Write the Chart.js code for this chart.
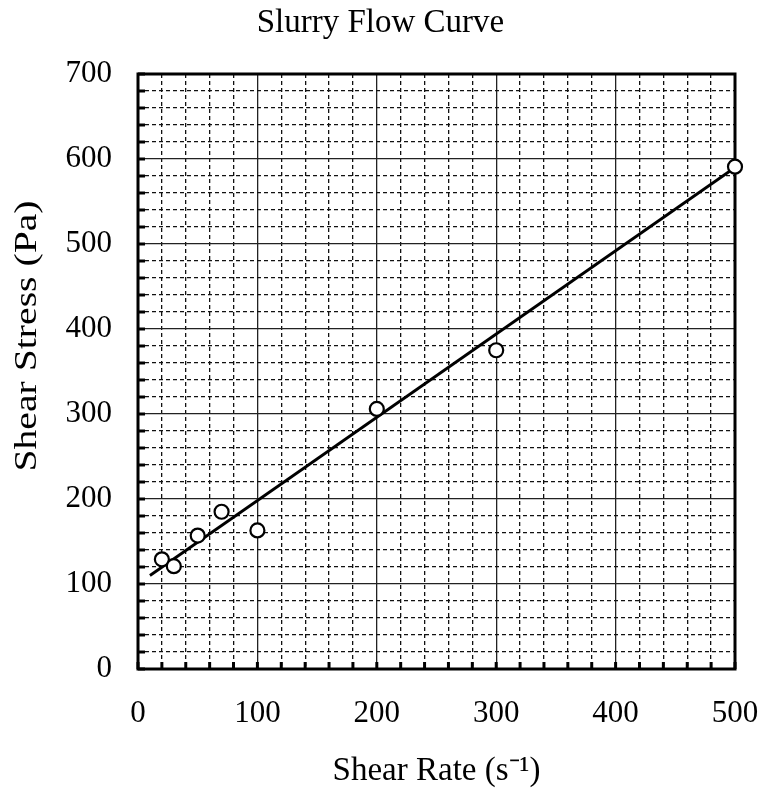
<!DOCTYPE html>
<html>
<head>
<meta charset="utf-8">
<title>Slurry Flow Curve</title>
<script src="https://cdn.jsdelivr.net/npm/chart.js@4/dist/chart.umd.min.js"></script>
<style>
  body { margin: 0; background: #fff; }
  #wrap { width: 761px; height: 799px; }
</style>
</head>
<body>
<div id="wrap"><canvas id="flow" width="761" height="799"></canvas></div>
<script>
// measured points
var shearRate   = [20, 30, 50, 70, 100, 200, 300, 500];
var shearStress = [129, 121, 157, 185, 163, 306, 375, 591];
// fitted straight line (two ends)
var fitRate   = [10, 500];
var fitStress = [110, 590];
// axis ticks
var xTicks = [0, 100, 200, 300, 400, 500];
var yTicks = [0, 100, 200, 300, 400, 500, 600, 700];
var minorStep = 20;

var serif = "'Liberation Serif', 'Times New Roman', serif";

function pairs(xs, ys) {
  return xs.map(function (x, i) { return {x: x, y: ys[i]}; });
}

function minorColor(ctx) {
  var v = ctx.tick ? ctx.tick.value : 0;
  return (v % 100 === 0) ? 'rgba(0,0,0,0)' : '#111';
}

// frame, inward minor ticks and the rotated y title
var decor = {
  id: 'decor',
  beforeDatasetsDraw: function (chart) {
    var c = chart.ctx, a = chart.chartArea;
    var x = chart.scales.x, y = chart.scales.y;
    c.save();
    c.strokeStyle = '#000';
    c.lineWidth = 3;
    for (var v = 0; v <= 500; v += minorStep) {
      var px = x.getPixelForValue(v);
      c.beginPath(); c.moveTo(px, a.bottom); c.lineTo(px, a.bottom - 7); c.stroke();
    }
    for (var w = 0; w <= 700; w += minorStep) {
      var py = y.getPixelForValue(w);
      c.beginPath(); c.moveTo(a.left, py); c.lineTo(a.left + 7, py); c.stroke();
    }
    c.strokeRect(a.left, a.top, a.right - a.left, a.bottom - a.top);
    c.restore();
  },
  afterDraw: function (chart) {
    var c = chart.ctx;
    c.save();
    c.translate(28, 336);
    c.rotate(-Math.PI / 2);
    c.scale(1.28, 1);
    c.font = "31px " + serif;
    c.fillStyle = '#000';
    c.textAlign = 'center';
    c.textBaseline = 'middle';
    c.fillText('Shear Stress (Pa)', 0, 0);
    c.restore();
  }
};

new Chart(document.getElementById('flow'), {
  type: 'scatter',
  data: {
    datasets: [
      {
        label: 'Measured',
        data: pairs(shearRate, shearStress),
        pointRadius: 7,
        pointHoverRadius: 7,
        pointBorderWidth: 2.2,
        borderColor: '#000',
        backgroundColor: '#fff',
        clip: false
      },
      {
        label: 'Fit',
        data: pairs(fitRate, fitStress),
        showLine: true,
        pointRadius: 0,
        borderColor: '#000',
        borderWidth: 2.8,
        clip: false
      }
    ]
  },
  options: {
    responsive: false,
    animation: false,
    layout: { padding: 0 },
    plugins: {
      legend: { display: false },
      tooltip: { enabled: false },
      title: {
        display: true,
        text: 'Slurry Flow Curve',
        color: '#000',
        font: { family: serif, size: 33, weight: 'normal' },
        padding: { top: 4, bottom: 0 }
      }
    },
    scales: {
      x: {
        type: 'linear', position: 'bottom', min: 0, max: 500,
        afterBuildTicks: function (s) { s.ticks = xTicks.map(function (v) { return {value: v}; }); },
        afterFit: function (s) { s.height = 130; s.paddingLeft = 0; s.paddingRight = 0; },
        grid: { color: '#222', lineWidth: 1.3, drawTicks: false },
        border: { display: false },
        ticks: { color: '#000', padding: 26, maxRotation: 0, font: { family: serif, size: 31 } },
        title: {
          display: true, text: 'Shear Rate (s\u207B\u00B9)', color: '#000',
          font: { family: serif, size: 33 }, padding: { top: 0, bottom: 8 }
        }
      },
      x2: {
        type: 'linear', position: 'top', min: 0, max: 500,
        afterFit: function (s) { s.height = 74 - 43.6; s.paddingLeft = 0; s.paddingRight = 0; },
        ticks: { display: false, stepSize: minorStep },
        grid: { color: minorColor, lineWidth: 1.3, drawTicks: false },
        border: { display: false, dash: [4, 3] }
      },
      y: {
        type: 'linear', position: 'left', min: 0, max: 700,
        afterBuildTicks: function (s) { s.ticks = yTicks.map(function (v) { return {value: v}; }); },
        afterFit: function (s) { s.width = 138; s.paddingTop = 0; s.paddingBottom = 0; },
        grid: { color: '#222', lineWidth: 1.3, drawTicks: false },
        border: { display: false },
        ticks: { color: '#000', padding: 26, font: { family: serif, size: 31 } }
      },
      y2: {
        type: 'linear', position: 'right', min: 0, max: 700,
        afterFit: function (s) { s.width = 26; s.paddingTop = 0; s.paddingBottom = 0; },
        ticks: { display: false, stepSize: minorStep },
        grid: { color: minorColor, lineWidth: 1.3, drawTicks: false },
        border: { display: false, dash: [4, 3] }
      }
    }
  },
  plugins: [decor]
});
</script>
</body>
</html>
